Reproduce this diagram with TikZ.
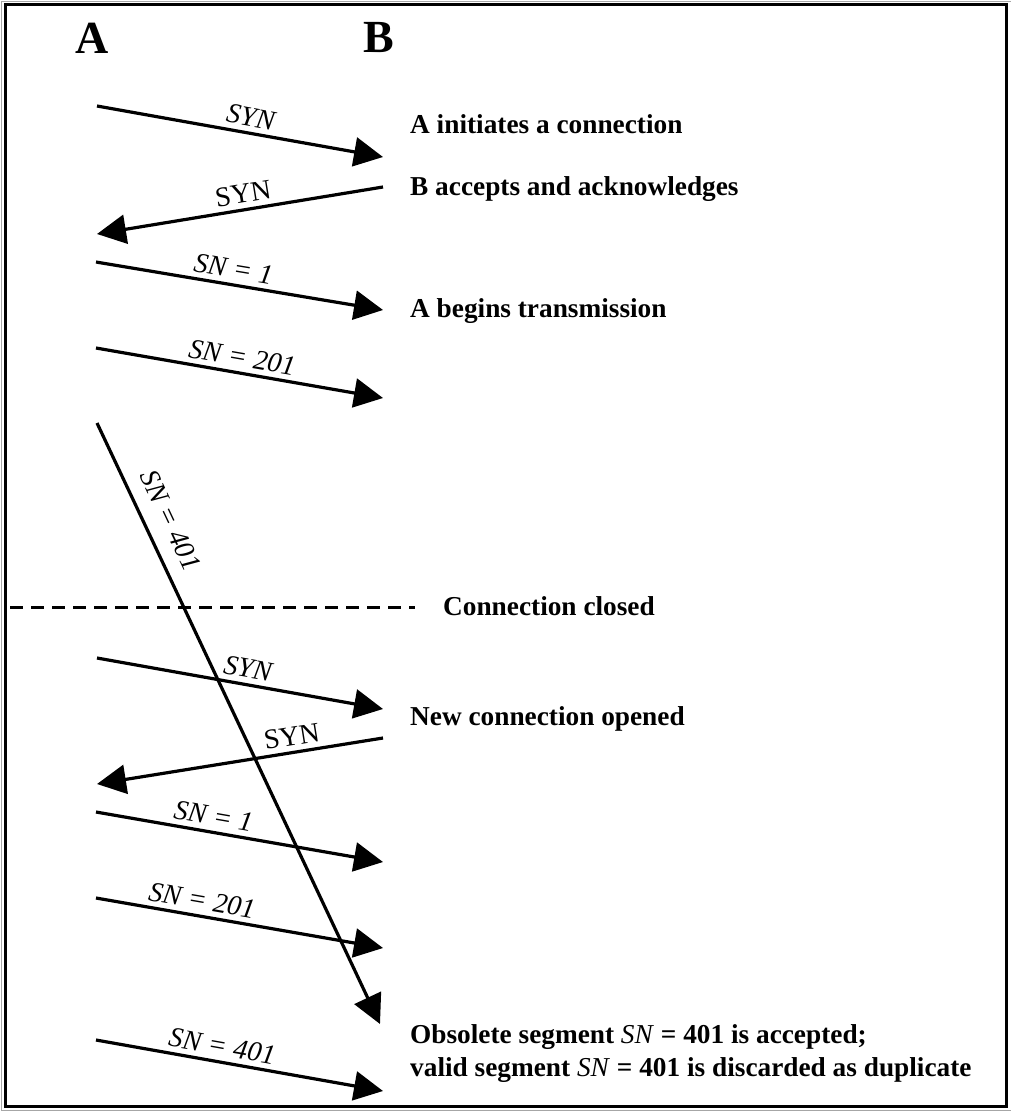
\documentclass[tikz,border=0pt]{standalone}
\usepackage{fontspec}
\setmainfont{Liberation Serif}
\usetikzlibrary{arrows.meta}
\begin{document}
\begin{tikzpicture}[x=1pt,y=1pt,
  msg/.style={line width=3.2pt,-{Triangle[length=29pt,width=29pt]}},
  lbl/.style={sloped,above=4pt,inner sep=1pt,font=\fontsize{28}{32}\selectfont},
  note/.style={anchor=base west,inner sep=0pt,font=\fontsize{27.3}{32}\selectfont\bfseries},
  hdr/.style={inner sep=0pt,font=\fontsize{46}{50}\selectfont\bfseries}]
\useasboundingbox (0,0) rectangle (1011,-1113);
% frame
\draw[gray!70,line width=1.5pt] (1011,-1.5) -- (1.5,-1.5) -- (1.5,-1110.5) -- (1011,-1110.5);
\draw[line width=3pt] (5.5,-4.5) rectangle (1006,-1106.5);
% headers
\node[hdr] (A) at (92,-38) {A};
\node[hdr] (B) at (379,-38) {B};
% notes
\node[note] (n1) at (410,-134) {A initiates a connection};
\node[note] (n2) at (410,-195) {B accepts and acknowledges};
\node[note] (n3) at (410,-317) {A begins transmission};
\node[note] (n4) at (443,-615) {Connection closed};
\node[note] (n5) at (410,-725) {New connection opened};
\node[note] (n6) at (410,-1043) {Obsolete segment \textmd{\textit{SN}} = 401 is accepted;};
\node[note] (n7) at (410,-1076) {valid segment \textmd{\textit{SN}} = 401 is discarded as duplicate};
% endpoints
\coordinate (s1) at (97,-106);  \coordinate (e1) at (383,-157);
\coordinate (s2) at (383,-187); \coordinate (e2) at (97,-234);
\coordinate (s3) at (96,-262);  \coordinate (e3) at (383,-310);
\coordinate (s4) at (96,-348);  \coordinate (e4) at (383,-398);
\coordinate (s5) at (97,-423);  \coordinate (e5) at (380,-1024);
\coordinate (s6) at (97,-658);  \coordinate (e6) at (383,-709);
\coordinate (s7) at (383,-738); \coordinate (e7) at (97,-784);
\coordinate (s8) at (96,-812);  \coordinate (e8) at (383,-862);
\coordinate (s9) at (96,-898);  \coordinate (e9) at (383,-948);
\coordinate (s10) at (96,-1040); \coordinate (e10) at (383,-1091);
\coordinate (d1) at (10,-607);  \coordinate (d2) at (415,-607);
% messages
\draw[msg] (s1) -- node[lbl,pos=.53]{\textit{SYN}} (e1);
\draw[msg] (s2) -- node[lbl,pos=.48]{SYN} (e2);
\draw[msg] (s3) -- node[lbl,pos=.47]{\textit{SN = 1}} (e3);
\draw[msg] (s4) -- node[lbl,pos=.5]{\textit{SN = 201}} (e4);
\draw[msg] (s5) -- node[lbl,pos=.18,above=9pt]{\textit{SN = 401}} (e5);
\draw[line width=3pt,dash pattern=on 13pt off 8pt] (d1) -- (d2);
\draw[msg] (s6) -- node[lbl,pos=.52]{\textit{SYN}} (e6);
\draw[msg] (s7) -- node[lbl,pos=.31]{SYN} (e7);
\draw[msg] (s8) -- node[lbl,pos=.40]{\textit{SN = 1}} (e8);
\draw[msg] (s9) -- node[lbl,pos=.36]{\textit{SN = 201}} (e9);
\draw[msg] (s10) -- node[lbl,pos=.43]{\textit{SN = 401}} (e10);
\end{tikzpicture}
\end{document}
